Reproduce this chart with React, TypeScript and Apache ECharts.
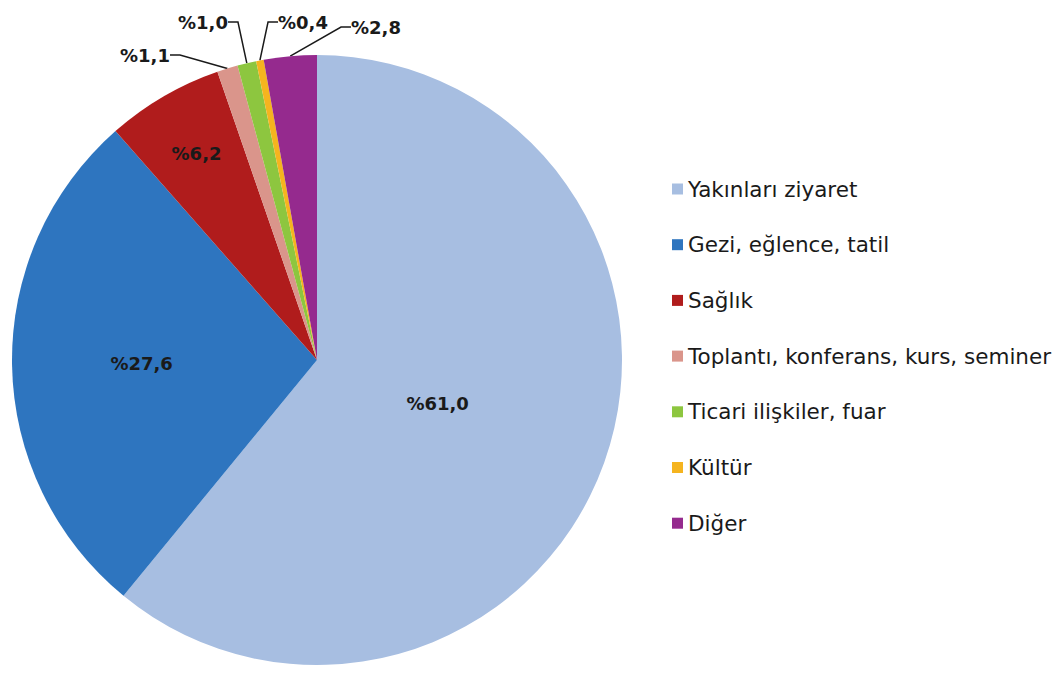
import React, { useEffect, useRef } from "react";
import * as echarts from "echarts";

const categories = [
  "Yakınları ziyaret",
  "Gezi, eğlence, tatil",
  "Sağlık",
  "Toplantı, konferans, kurs, seminer",
  "Ticari ilişkiler, fuar",
  "Kültür",
  "Diğer",
];
const values = [61.0, 27.6, 6.2, 1.1, 1.0, 0.4, 2.8];
const colors = ["#A7BEE1", "#2E75BF", "#B01C1C", "#DA958B", "#8DC63F", "#F5B41F", "#952A8E"];

// label styling: inside labels at a fraction of radius, outside labels at fixed anchors
const insideRadiusFrac: Record<number, number> = { 0: 0.42, 1: 0.575, 2: 0.785 };
const outsideAnchors: Record<number, [number, number, string]> = {
  3: [145, 55, "center"],
  4: [203, 22, "center"],
  5: [303, 22, "center"],
  6: [376, 27, "center"],
};

const CX = 317;
const CY = 360;
const R = 305;

function fmt(v: number) {
  return "%" + v.toFixed(1).replace(".", ",");
}

export default function App() {
  const ref = useRef<HTMLDivElement>(null);
  useEffect(() => {
    document.body.style.margin = "0";
    const chart = echarts.init(ref.current!, undefined, { renderer: "svg" });
    const total = values.reduce((a, b) => a + b, 0);
    const midAngles: number[] = [];
    let acc = 0;
    values.forEach((v) => {
      midAngles.push(((acc + v / 2) / total) * Math.PI * 2);
      acc += v;
    });
    chart.setOption({
      animation: false,
      backgroundColor: "#ffffff",
      legend: {
        orient: "vertical",
        left: 667,
        top: 172,
        icon: "rect",
        itemWidth: 11,
        itemHeight: 11,
        itemGap: 31.7,
        itemTextGap: 7,
        itemStyle: { borderWidth: 0 },
        textStyle: {
          fontFamily: "DejaVu Sans, sans-serif",
          fontSize: 21.5,
          lineHeight: 24,
          color: "#1a1a1a",
        },
        data: categories,
      },
      series: [
        {
          type: "pie",
          center: [CX, CY],
          radius: R,
          startAngle: 90,
          clockwise: true,
          avoidLabelOverlap: false,
          itemStyle: { borderWidth: 0 },
          emphasis: { disabled: true },
          label: {
            show: true,
            position: "outside",
            formatter: (p: any) => fmt(p.value),
            fontFamily: "DejaVu Sans, sans-serif",
            fontWeight: "bold",
            fontSize: 18,
            color: "#1a1a1a",
          },
          labelLine: {
            show: true,
            length: 12,
            length2: 10,
            smooth: false,
            lineStyle: { color: "#1a1a1a", width: 1.5 },
          },
          labelLayout: (params: any) => {
            const i = params.dataIndex;
            if (insideRadiusFrac[i] !== undefined) {
              const r = insideRadiusFrac[i] * R;
              return {
                x: CX + r * Math.sin(midAngles[i]),
                y: CY - r * Math.cos(midAngles[i]),
                align: "center",
                verticalAlign: "middle",
              };
            }
            const a = outsideAnchors[i];
            if (a) {
              return { x: a[0], y: a[1], align: a[2], verticalAlign: "middle" };
            }
            return {};
          },
          data: categories.map((name, i) => ({
            name,
            value: values[i],
            itemStyle: { color: colors[i] },
            label: insideRadiusFrac[i] !== undefined ? { position: "inside" } : undefined,
            labelLine: insideRadiusFrac[i] !== undefined ? { show: false } : undefined,
          })),
        },
      ],
    });
    return () => chart.dispose();
  }, []);
  return <div ref={ref} style={{ width: 1058, height: 678 }} />;
}
